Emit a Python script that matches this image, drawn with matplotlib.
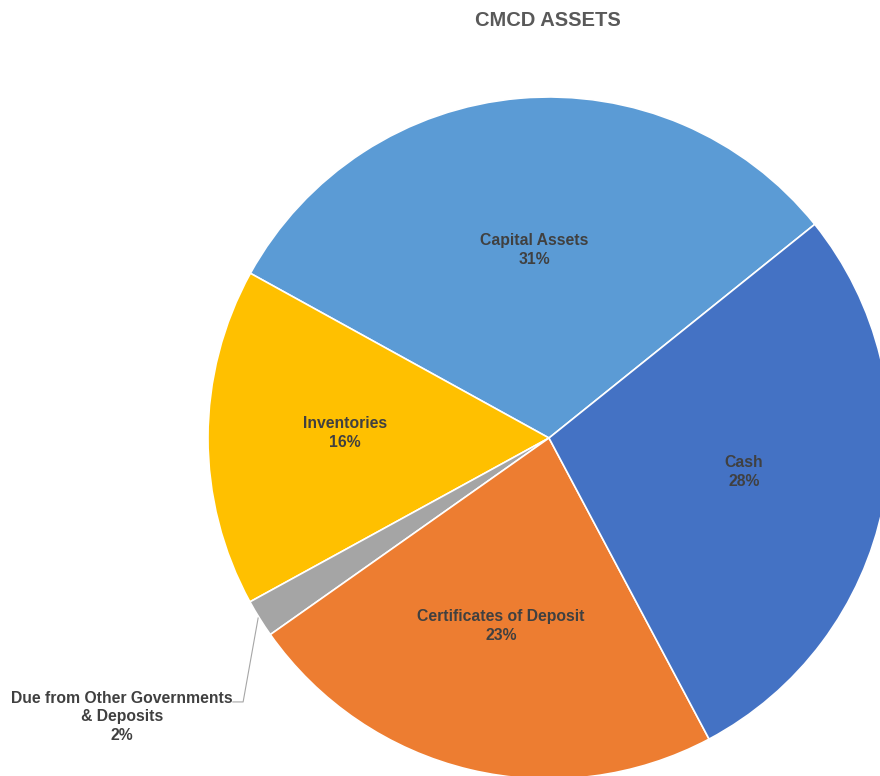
import matplotlib.pyplot as plt

plt.rcParams['font.family'] = ['Liberation Sans', 'DejaVu Sans']

labels = ['Capital Assets', 'Inventories', 'Due from Other Governments\n& Deposits',
          'Certificates of Deposit', 'Cash']
values = [31.2, 16.0, 1.8, 23.0, 28.0]
pct_text = ['31%', '16%', '2%', '23%', '28%']
colors = ['#5B9BD5', '#FFC000', '#A5A5A5', '#ED7D31', '#4472C4']

# label positions in data coords (pie radius 1)
label_pos = [(-0.044, 0.551), (-0.598, 0.015), (-1.252, -0.818),
             (-0.141, -0.551), (0.572, -0.100)]

fig = plt.figure(figsize=(8.8, 7.76), dpi=100)
fig.text(548 / 880, 1 - 20 / 776, 'CMCD ASSETS', ha='center', va='center',
         fontsize=14.5, fontweight='bold', color='#595959')

cx, cy, r = 549, 438, 341
ax = fig.add_axes([(cx - r) / 880, (776 - cy - r) / 776, 2 * r / 880, 2 * r / 776])
ax.pie(values, colors=colors, startangle=38.8, counterclock=True, radius=1,
       wedgeprops=dict(edgecolor='white', linewidth=1.2))
ax.set_xlim(-1, 1)
ax.set_ylim(-1, 1)
ax.set_aspect('equal')
ax.axis('off')

for lab, pct, (x, y) in zip(labels, pct_text, label_pos):
    ax.text(x, y, lab + '\n' + pct, ha='center', va='center', fontsize=11.3,
            fontweight='bold', color='#404040', linespacing=1.3, clip_on=False)

# leader line for the small slice
ax.plot([-0.853, -0.897, -0.927], [-0.528, -0.774, -0.774], color='#A6A6A6',
        linewidth=0.8, clip_on=False)

fig.savefig('out.png', dpi=100)
